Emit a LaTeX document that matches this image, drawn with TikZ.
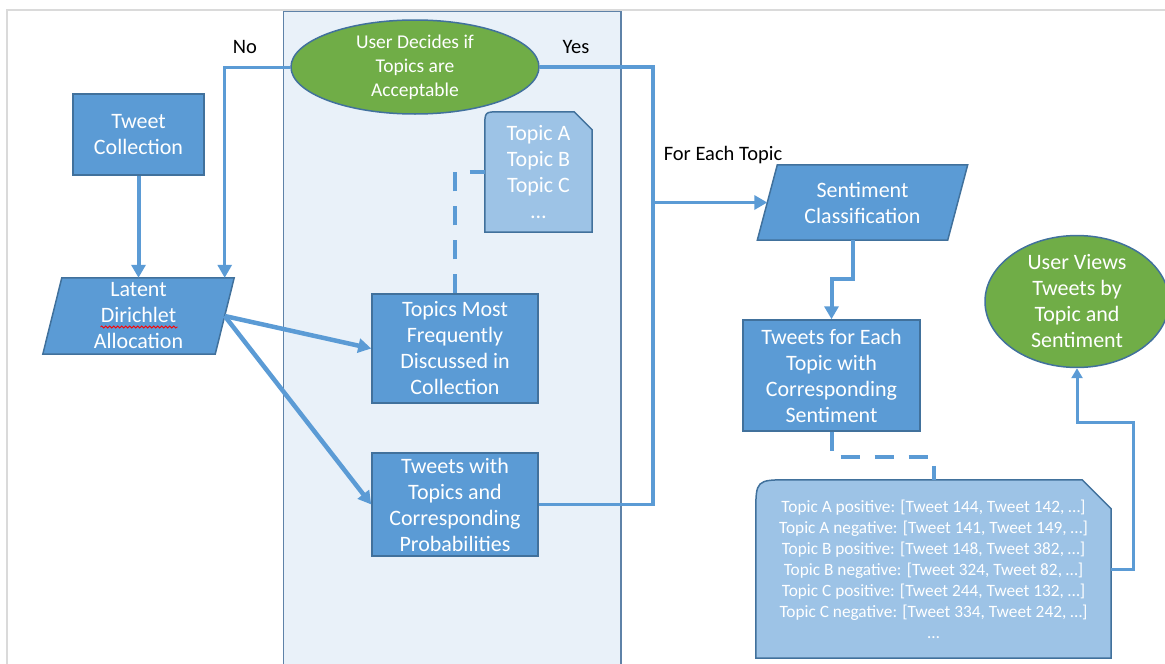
\documentclass[tikz,border=0pt]{standalone}
\usepackage{fontspec}
\setmainfont{Carlito}
\usetikzlibrary{arrows.meta,shapes.geometric,calc,decorations.pathmorphing}
\definecolor{boxblue}{HTML}{5B9BD5}
\definecolor{boxedge}{HTML}{41719C}
\definecolor{noteblue}{HTML}{9DC3E6}
\definecolor{okgreen}{HTML}{70AD47}
\definecolor{panelfill}{HTML}{E9F1F9}
\definecolor{paneledge}{HTML}{5E82A8}
\definecolor{framegray}{HTML}{DADADA}
\pgfdeclarelayer{panel}
\pgfdeclarelayer{bg}
\pgfsetlayers{panel,bg,main}

\begin{document}
\begin{tikzpicture}[x=1pt,y=-1pt,
  bigfont/.style={font=\fontsize{22}{26}\selectfont},
  box/.style={rectangle, fill=boxblue, draw=boxedge, line width=1.5pt, text=white,
    align=center, inner sep=0pt, bigfont},
  slanted/.style={rectangle, draw=none, text=white, align=center, inner sep=0pt, bigfont},
  oval/.style={ellipse, fill=okgreen, draw=boxedge, line width=1.5pt, text=white,
    align=center, inner sep=0pt},
  notetext/.style={rectangle, draw=none, text=white, align=center, inner sep=0pt},
  noteshape/.style={fill=noteblue, draw=boxedge, line width=1.5pt},
  shapefill/.style={fill=boxblue, draw=boxedge, line width=1.5pt},
  conn/.style={draw=boxblue, line width=3.5pt},
  arrowconn/.style={conn, -{Triangle[length=13pt,width=14pt]}},
  dashconn/.style={draw=boxblue, line width=4pt, dash pattern=on 19pt off 15pt},
  lbl/.style={text=black, font=\fontsize{20.5}{24}\selectfont, inner sep=0pt}
]
\useasboundingbox (0,0) rectangle (1165,664);

% page frame and the topic-modelling panel
\begin{pgfonlayer}{panel}
  \draw[framegray, line width=1.5pt] (7,670) -- (7,10) -- (1170,10);
  \draw[fill=panelfill, draw=paneledge, line width=1.5pt] (283.5,11.5) rectangle (621,670);
\end{pgfonlayer}

% nodes
\node[box, minimum width=131, minimum height=81] (tc) at (138.5,134.5) {Tweet\\Collection};
\node[slanted, minimum width=172, minimum height=76] (lda) at (138.5,316) {Latent\\Dirichlet\\Allocation};
\node[oval, minimum width=248, minimum height=94, font=\fontsize{19.5}{24}\selectfont] (decide) at (415,67)
  {User Decides if\\Topics are\\Acceptable};
\node[notetext, minimum width=107, minimum height=120, bigfont] (topics) at (538.5,172)
  {Topic A\\Topic B\\Topic C\\…};
\node[box, minimum width=166, minimum height=109] (tmf) at (455,348.5)
  {Topics Most\\Frequently\\Discussed in\\Collection};
\node[box, minimum width=166, minimum height=103] (twp) at (455,504.5)
  {Tweets with\\Topics and\\Corresponding\\Probabilities};
\node[slanted, minimum width=190, minimum height=75] (sent) at (862.5,202.5)
  {Sentiment\\Classification};
\node[box, minimum width=177, minimum height=111] (tfe) at (831.5,375.5)
  {Tweets for Each\\Topic with\\Corresponding\\Sentiment};
\node[notetext, minimum width=355, minimum height=178, font=\fontsize{17.3}{21}\selectfont] (res) at (933.5,569)
  {Topic A positive: [Tweet 144, Tweet 142, …]\\
   Topic A negative: [Tweet 141, Tweet 149, …]\\
   Topic B positive: [Tweet 148, Tweet 382, …]\\
   Topic B negative: [Tweet 324, Tweet 82, …]\\
   Topic C positive: [Tweet 244, Tweet 132, …]\\
   Topic C negative: [Tweet 334, Tweet 242, …]\\
   …};
\node[oval, minimum width=184, minimum height=123, bigfont] (uv) at (1077,301.5)
  {User Views\\Tweets by\\Topic and\\Sentiment};

\node[lbl] (no) at (245,47) {No};
\node[lbl] (yes) at (576,47) {Yes};
\node[lbl] (fet) at (723,155) {For Each Topic};

% parallelograms and note shapes behind their texts
\begin{pgfonlayer}{bg}
  \path[shapefill] ($(lda.north west)+(9.5,0)$) -- ($(lda.north east)+(9.5,0)$)
    -- ($(lda.south east)+(-9.5,0)$) -- ($(lda.south west)+(-9.5,0)$) -- cycle;
  \path[shapefill] ($(sent.north west)+(10,0)$) -- ($(sent.north east)+(10,0)$)
    -- ($(sent.south east)+(-10,0)$) -- ($(sent.south west)+(-10,0)$) -- cycle;
  \path[noteshape] let \p1=(topics.north west), \p2=(topics.south east) in
    (\x1,\y2) -- (\x1,{\y1-15pt}) .. controls (\x1,\y1) .. ({\x1+15pt},\y1)
    -- ({\x2-18pt},\y1) -- (\x2,{\y1-18pt}) -- (\x2,\y2) -- cycle;
  \path[noteshape] let \p1=(res.north west), \p2=(res.south east) in
    (\x1,\y2) -- (\x1,{\y1-34pt}) .. controls (\x1,\y1) .. ({\x1+34pt},\y1)
    -- ({\x2-29pt},\y1) -- (\x2,{\y1-29pt}) -- (\x2,\y2) -- cycle;
\end{pgfonlayer}

% spelling mark under "Dirichlet"
\draw[red, line width=0.8pt, decorate, decoration={snake, segment length=4pt, amplitude=1pt}]
  ($(lda.center)+(-38,11)$) -- ++(77,0);

% connectors
\draw[arrowconn, line width=4pt] (tc.south) -- (lda.north);
\draw[arrowconn, line width=3pt] (decide.west) -| (lda.north east);
\draw[arrowconn, line width=4.5pt] (lda.east) -- (tmf.west);
\draw[arrowconn, line width=4.5pt] (lda.east) -- (twp.west);
\draw[conn] (decide.east) -| ($(twp.east)+(114,0)$) -- (twp.east);
\coordinate (fork) at (652,202.5);
\draw[arrowconn] (fork) -- (sent.west);
\draw[arrowconn, line width=4pt] ([xshift=-9.5pt]sent.south) -- ++(0,39) -| (tfe.north);
\draw[dashconn] (tmf.north) |- (topics.west);
\draw[dashconn] (tfe.south) -- ++(0,25) -| (res.north);
\draw[conn, line width=3pt, -{Triangle[length=10pt,width=11pt]}] (res.east) -| ++(22,-147) -| (uv.south);
\end{tikzpicture}
\end{document}
